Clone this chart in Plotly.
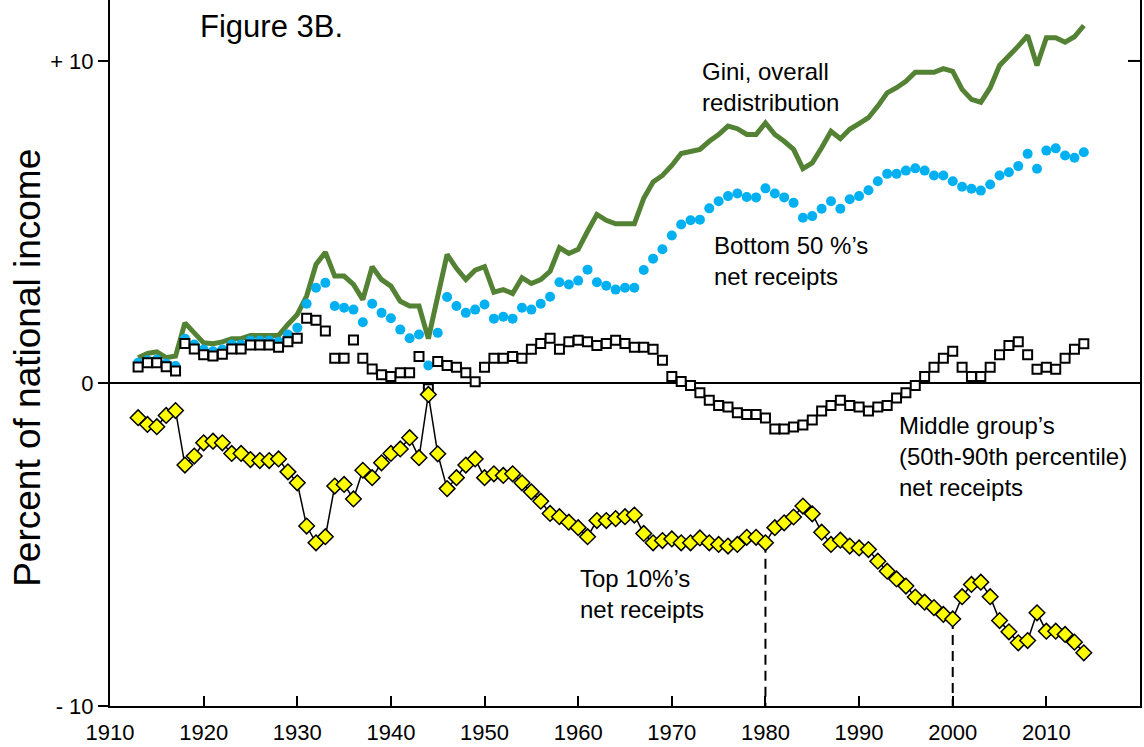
import plotly.graph_objects as go

years = list(range(1913, 2015))

gini = [0.80, 0.93, 0.98, 0.80, 0.85, 1.88, 1.57, 1.26, 1.23, 1.29,
        1.39, 1.39, 1.49, 1.49, 1.49, 1.49, 1.83, 2.14, 2.71, 3.69,
        4.07, 3.33, 3.33, 3.07, 2.60, 3.62, 3.22, 3.02, 2.55, 2.40,
        2.40, 1.39, 2.70, 4.00, 3.57, 3.22, 3.51, 3.62, 2.83, 2.91,
        2.79, 3.28, 3.10, 3.22, 3.48, 4.21, 4.03, 4.16, 4.72, 5.24,
        5.06, 4.95, 4.95, 4.95, 5.74, 6.25, 6.45, 6.76, 7.13, 7.19,
        7.26, 7.51, 7.72, 7.98, 7.90, 7.72, 7.72, 8.08, 7.72, 7.51,
        7.26, 6.66, 6.84, 7.31, 7.82, 7.59, 7.88, 8.06, 8.24, 8.60,
        9.01, 9.17, 9.37, 9.65, 9.65, 9.65, 9.76, 9.68, 9.12, 8.81,
        8.72, 9.17, 9.86, 10.15, 10.46, 10.79, 9.86, 10.72, 10.72, 10.58,
        10.75, 11.10]

bottom50 = [0.64, 0.72, 0.74, 0.62, 0.54, 1.39, 1.21, 1.05, 1.00, 1.05,
            1.21, 1.21, 1.33, 1.33, 1.33, 1.29, 1.52, 1.73, 2.47, 2.97,
            3.12, 2.40, 2.35, 2.29, 1.90, 2.47, 2.19, 2.02, 1.67, 1.40,
            1.52, 0.56, 1.57, 2.68, 2.40, 2.19, 2.29, 2.45, 2.01, 2.07,
            2.01, 2.35, 2.29, 2.47, 2.69, 3.14, 3.07, 3.19, 3.53, 3.14,
            3.03, 2.91, 2.97, 2.97, 3.52, 3.87, 4.16, 4.59, 4.93, 5.06,
            5.08, 5.43, 5.65, 5.81, 5.89, 5.78, 5.77, 6.05, 5.89, 5.77,
            5.60, 5.14, 5.19, 5.42, 5.65, 5.42, 5.71, 5.81, 5.99, 6.27,
            6.50, 6.50, 6.60, 6.67, 6.60, 6.45, 6.45, 6.27, 6.10, 6.04,
            5.98, 6.17, 6.45, 6.55, 6.74, 7.12, 6.66, 7.22, 7.29, 7.07,
            7.00, 7.17]

middle40 = [0.51, 0.64, 0.64, 0.52, 0.39, 1.24, 1.07, 0.89, 0.85, 0.91,
            1.07, 1.07, 1.19, 1.19, 1.19, 1.12, 1.29, 1.40, 2.02, 1.96,
            1.63, 0.78, 0.78, 1.35, 0.78, 0.45, 0.27, 0.22, 0.33, 0.33,
            0.84, -0.16, 0.68, 0.56, 0.50, 0.33, 0.05, 0.50, 0.78, 0.78,
            0.84, 0.78, 1.06, 1.24, 1.40, 1.06, 1.29, 1.34, 1.29, 1.18,
            1.24, 1.34, 1.24, 1.12, 1.12, 1.06, 0.72, 0.22, 0.06, -0.06,
            -0.29, -0.52, -0.68, -0.73, -0.91, -0.96, -0.96, -1.07, -1.41, -1.41,
            -1.35, -1.29, -1.13, -0.85, -0.68, -0.52, -0.68, -0.73, -0.85, -0.73,
            -0.68, -0.45, -0.29, -0.06, 0.22, 0.50, 0.78, 1.00, 0.50, 0.22,
            0.22, 0.50, 0.89, 1.18, 1.29, 0.89, 0.44, 0.50, 0.44, 0.78,
            1.06, 1.23]

top10 = [-1.06, -1.27, -1.34, -0.99, -0.84, -2.53, -2.25, -1.84, -1.79, -1.84,
         -2.17, -2.17, -2.36, -2.39, -2.39, -2.34, -2.74, -3.08, -4.42, -4.94,
         -4.75, -3.18, -3.13, -3.58, -2.69, -2.92, -2.46, -2.17, -2.03, -1.68,
         -2.30, -0.34, -2.18, -3.26, -2.92, -2.53, -2.34, -2.92, -2.80, -2.85,
         -2.80, -3.08, -3.36, -3.65, -4.03, -4.13, -4.30, -4.47, -4.75, -4.25,
         -4.25, -4.19, -4.13, -4.08, -4.65, -4.94, -4.87, -4.82, -4.94, -4.94,
         -4.79, -4.94, -4.99, -5.04, -4.99, -4.77, -4.77, -4.94, -4.47, -4.32,
         -4.14, -3.80, -4.04, -4.61, -4.99, -4.86, -5.04, -5.10, -5.15, -5.51,
         -5.82, -6.06, -6.28, -6.62, -6.78, -6.95, -7.16, -7.30, -6.61, -6.23,
         -6.16, -6.61, -7.35, -7.70, -8.04, -7.97, -7.11, -7.68, -7.68, -7.78,
         -8.02, -8.35]

x_ticks = [1910, 1920, 1930, 1940, 1950, 1960, 1970, 1980, 1990, 2000, 2010]
y_ticks = [-10, 0, 10]
y_ticktext = ["- 10", "0", "+ 10"]
marked_years = [1980, 2000]

FONT = "Liberation Sans, Arial, sans-serif"

fig = go.Figure()
fig.add_trace(go.Scatter(x=years, y=gini, mode="lines",
                         line=dict(color="#548235", width=5)))
fig.add_trace(go.Scatter(x=years, y=bottom50, mode="markers",
                         marker=dict(color="#00B0F0", size=10, line=dict(width=0))))
fig.add_trace(go.Scatter(x=years, y=middle40, mode="markers",
                         marker=dict(symbol="square", size=9, color="white",
                                     line=dict(color="black", width=2))))
fig.add_trace(go.Scatter(x=years, y=top10, mode="lines+markers",
                         line=dict(color="black", width=1.5),
                         marker=dict(symbol="diamond", size=12, color="#FFFF00",
                                     line=dict(color="black", width=1.5))))

for yr in marked_years:
    v = top10[years.index(yr)]
    fig.add_shape(type="line", x0=yr, x1=yr, y0=v, y1=-10, xref="x", yref="y",
                  line=dict(color="black", width=2, dash="10px,6px"), layer="below")

# right-side inside tick at +10
fig.add_shape(type="line", xref="paper", yref="y", x0=1 - 12 / 1030, x1=1, y0=10, y1=10,
              line=dict(color="black", width=2))

ann_font = dict(family=FONT, size=24, color="black")
fig.add_annotation(x=1919.4, y=11.07, text="Figure 3B.", showarrow=False,
                   xanchor="left", yanchor="middle", font=dict(family=FONT, size=31, color="black"))
fig.add_annotation(x=1973.0, y=9.19, text="Gini, overall<br>redistribution", showarrow=False,
                   xanchor="left", yanchor="middle", align="left", font=ann_font)
fig.add_annotation(x=1974.3, y=3.81, text="Bottom 50 %’s<br>net receipts", showarrow=False,
                   xanchor="left", yanchor="middle", align="left", font=ann_font)
fig.add_annotation(x=1994.1, y=-2.26, text="Middle group’s<br>(50th-90th percentile)<br>net receipts",
                   showarrow=False, xanchor="left", yanchor="middle", align="left", font=ann_font)
fig.add_annotation(x=1960.0, y=-6.54, text="Top 10%’s<br>net receipts", showarrow=False,
                   xanchor="left", yanchor="middle", align="left", font=ann_font)
fig.add_annotation(xref="paper", yref="paper", x=-0.0796, y=0.479, text="Percent of national income",
                   textangle=-90, showarrow=False, xanchor="center", yanchor="middle",
                   font=dict(family=FONT, size=37, color="black"))

fig.update_layout(
    width=1144, height=747,
    margin=dict(l=110, r=4, t=0, b=41),
    plot_bgcolor="white", paper_bgcolor="white",
    showlegend=False,
    font=dict(family=FONT, color="black"),
    xaxis=dict(range=[1910, 2020], tickvals=x_ticks, ticks="inside", ticklen=10, tickwidth=2,
               tickcolor="black", showline=True, linecolor="black", linewidth=2,
               showgrid=False, zeroline=False, tickfont=dict(size=22, family=FONT, color="black"),
               ticklabelstandoff=6),
    yaxis=dict(range=[-10, 11.89], tickvals=y_ticks, ticktext=y_ticktext, ticks="outside",
               ticklen=10, tickwidth=2, tickcolor="black", showline=True, mirror=True,
               linecolor="black", linewidth=2, showgrid=False, zeroline=True,
               zerolinecolor="black", zerolinewidth=2,
               tickfont=dict(size=22, family=FONT, color="black")),
)

fig.write_html("out.html", config={"displayModeBar": False},
               post_script="document.body.style.margin='0';document.body.style.overflow='hidden';")
